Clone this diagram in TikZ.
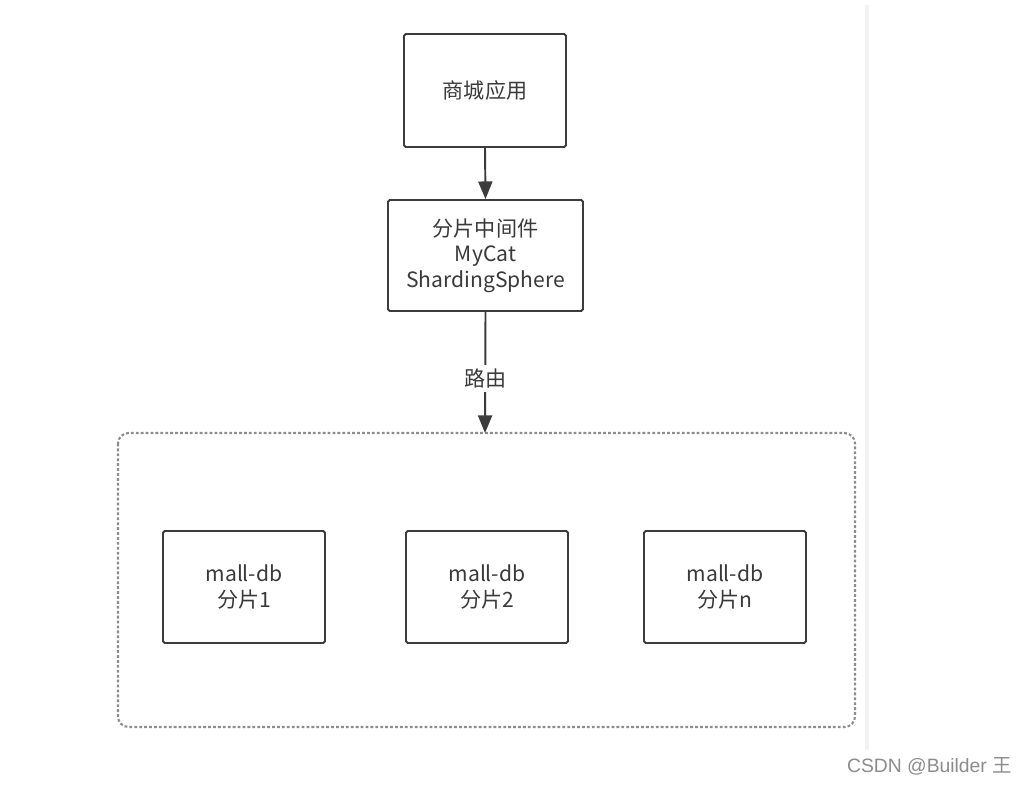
\documentclass[tikz,border=0pt]{standalone}
\usepackage{fontspec}
\setmainfont{Noto Sans CJK SC}
\newfontfamily\wmfont{Liberation Sans}
\newfontfamily\wmcjk{Noto Sans CJK SC}
\usetikzlibrary{arrows.meta}
\definecolor{linec}{HTML}{3C3C3C}
\definecolor{textc}{HTML}{3A3A3A}
\definecolor{dashc}{HTML}{8C8C8C}
\tikzset{
  boxnode/.style={draw=linec, line width=1.1pt, rounded corners=1pt, anchor=center, text=textc,
    font=\fontsize{12}{14.5}\selectfont, align=center, inner sep=0pt},
  conn/.style={draw=linec, line width=1.1pt, -{Triangle[length=10pt,width=8pt]}},
}
\begin{document}
\begin{tikzpicture}[x=0.02cm,y=-0.02cm]
\useasboundingbox (0,0) rectangle (1017,784);
\fill[white] (0,0) rectangle (1017,784);
% faint vertical line
\draw[color=black!5, line width=2pt] (867,5) -- (867,750);
% dashed container
\draw[dashc, line width=1.2pt, dash pattern=on 1.6pt off 1.2pt, rounded corners=6pt] (118,433) rectangle (855,727);
\coordinate (ctop) at (485,433);
% boxes
\node[boxnode, minimum width=162*0.02cm, minimum height=113*0.02cm] (app) at (485,90.5) {商城应用};
\node[boxnode, minimum width=195*0.02cm, minimum height=111*0.02cm] (mid) at (485.5,255.5) {分片中间件\\MyCat\\ShardingSphere};
\node[boxnode, minimum width=162*0.02cm, minimum height=112*0.02cm] (db1) at (244,587) {mall-db\\分片1};
\node[boxnode, minimum width=162*0.02cm, minimum height=112*0.02cm] (db2) at (487,587) {mall-db\\分片2};
\node[boxnode, minimum width=162*0.02cm, minimum height=112*0.02cm] (db3) at (725,587) {mall-db\\分片n};
% connectors
\draw[conn] (app.south) -- (mid.north);
\draw[conn] (mid.south) -- node[fill=white, text=textc, font=\fontsize{12}{14}\selectfont, inner sep=2pt, pos=0.55] (lbl) {路由} (ctop);
% watermark
\node[anchor=east, text=black!45, font=\fontsize{11}{13}\selectfont, inner sep=0pt] (wm) at (1012,766) {\wmfont CSDN @Builder \wmcjk 王};
\end{tikzpicture}
\end{document}
